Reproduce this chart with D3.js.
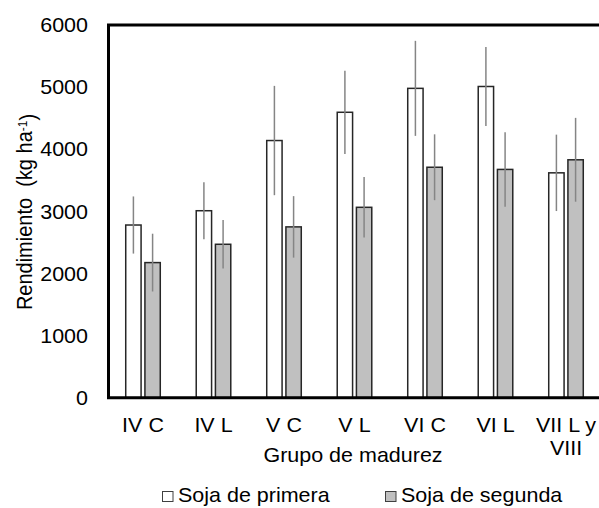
<!DOCTYPE html>
<html>
<head>
<meta charset="utf-8">
<script src="https://cdn.jsdelivr.net/npm/d3@7"></script>
<style>
  body { margin: 0; background: #fff; }
  text { font-family: "Liberation Sans", Arial, sans-serif; fill: #000; }
</style>
</head>
<body>
<script>
// datos
const categories = ["IV C", "IV L", "V C", "V L", "VI C", "VI L", "VII L y VIII"];
const series = ["Soja de primera", "Soja de segunda"];
const primera = [2780, 3010, 4140, 4595, 4980, 5010, 3620];
const primeraSD = [460, 460, 880, 670, 765, 635, 615];
const segunda = [2175, 2470, 2750, 3065, 3710, 3675, 3830];
const segundaSD = [465, 390, 495, 487, 530, 600, 675];
const yTicks = [0, 1000, 2000, 3000, 4000, 5000, 6000];

const fills = ["#ffffff", "#c0c0c0"];
const W = 599, H = 508;
const sx = 1.075; // texto algo ensanchado en el original

const svg = d3.select("body").append("svg")
  .attr("width", W).attr("height", H);

const x0 = d3.scaleBand()
  .domain(categories)
  .range([107.75, 601.25])
  .paddingInner(0.51)
  .paddingOuter(0.255);

const x1 = d3.scaleBand()
  .domain(series)
  .range([0, x0.bandwidth()])
  .paddingInner(0.2);

const y = d3.scaleLinear()
  .domain([0, 6000])
  .range([397.7, 25]);

let rows = categories.map((c, i) => ({
  cat: c,
  vals: [
    {s: series[0], v: primera[i], sd: primeraSD[i]},
    {s: series[1], v: segunda[i], sd: segundaSD[i]}
  ]
}));

// barras
let groups = svg.append("g").selectAll("g")
  .data(rows).enter().append("g")
  .attr("transform", d => "translate(" + x0(d.cat) + ",0)");

groups.selectAll("rect")
  .data(d => d.vals).enter().append("rect")
  .attr("x", d => x1(d.s))
  .attr("y", d => y(d.v))
  .attr("width", x1.bandwidth())
  .attr("height", d => y(0) - y(d.v))
  .attr("fill", (d, i) => fills[i])
  .attr("stroke", "#262626")
  .attr("stroke-width", 1.5);

groups.selectAll("line")
  .data(d => d.vals).enter().append("line")
  .attr("x1", d => x1(d.s) + x1.bandwidth() / 2)
  .attr("x2", d => x1(d.s) + x1.bandwidth() / 2)
  .attr("y1", d => y(d.v + d.sd))
  .attr("y2", d => y(d.v - d.sd))
  .attr("stroke", "#858585")
  .attr("stroke-width", 1.5);

// marco
svg.append("path")
  .attr("d", "M" + 600 + "," + y(6000) + "H" + 108.5 + "V" + y(0) + "H" + 600)
  .attr("fill", "none")
  .attr("stroke", "#000")
  .attr("stroke-width", 3);

// eje y
svg.append("g").selectAll("text")
  .data(yTicks).enter().append("text")
  .attr("transform", d => "translate(88," + y(d) + ") scale(" + sx + ",1)")
  .attr("dy", "0.36em")
  .attr("text-anchor", "end")
  .style("font-size", "20px")
  .text(d => d);

let yt = svg.append("text")
  .attr("transform", "translate(32,212) scale(" + sx + ",1) rotate(-90)")
  .attr("text-anchor", "middle")
  .style("font-size", "20px");
yt.append("tspan").text("Rendimiento\u00a0\u00a0(kg ha");
yt.append("tspan").attr("dy", "-0.4em").style("font-size", "12px").text("-1");
yt.append("tspan").attr("dy", "0.4em").text(")");

// etiquetas x
svg.append("g").selectAll("text")
  .data(categories).enter().append("text")
  .attr("transform", d => "translate(" + (x0(d) + x0.bandwidth() / 2) + ",431.5) scale(" + sx + ",1)")
  .attr("text-anchor", "middle")
  .style("font-size", "20px")
  .each(function(d) {
    let parts = d === "VII L y VIII" ? ["VII L y", "VIII"] : [d];
    d3.select(this).selectAll("tspan").data(parts).enter().append("tspan")
      .attr("x", 0)
      .attr("dy", (p, i) => i === 0 ? 0 : 24)
      .text(p => p);
  });

svg.append("text")
  .attr("transform", "translate(353,461.5) scale(" + sx + ",1)")
  .attr("text-anchor", "middle")
  .style("font-size", "20px")
  .text("Grupo de madurez");

// leyenda
const legX = [162, 385];
let leg = svg.append("g").selectAll("g")
  .data(series).enter().append("g");
leg.append("rect")
  .attr("x", (d, i) => legX[i] + 0.5)
  .attr("y", 491.5)
  .attr("width", 10.5)
  .attr("height", 10)
  .attr("fill", (d, i) => fills[i])
  .attr("stroke", "#404040")
  .attr("stroke-width", 1);
leg.append("text")
  .attr("transform", (d, i) => "translate(" + (legX[i] + 16) + ",501.5) scale(" + sx + ",1)")
  .style("font-size", "20px")
  .text(d => d);
</script>
</body>
</html>
